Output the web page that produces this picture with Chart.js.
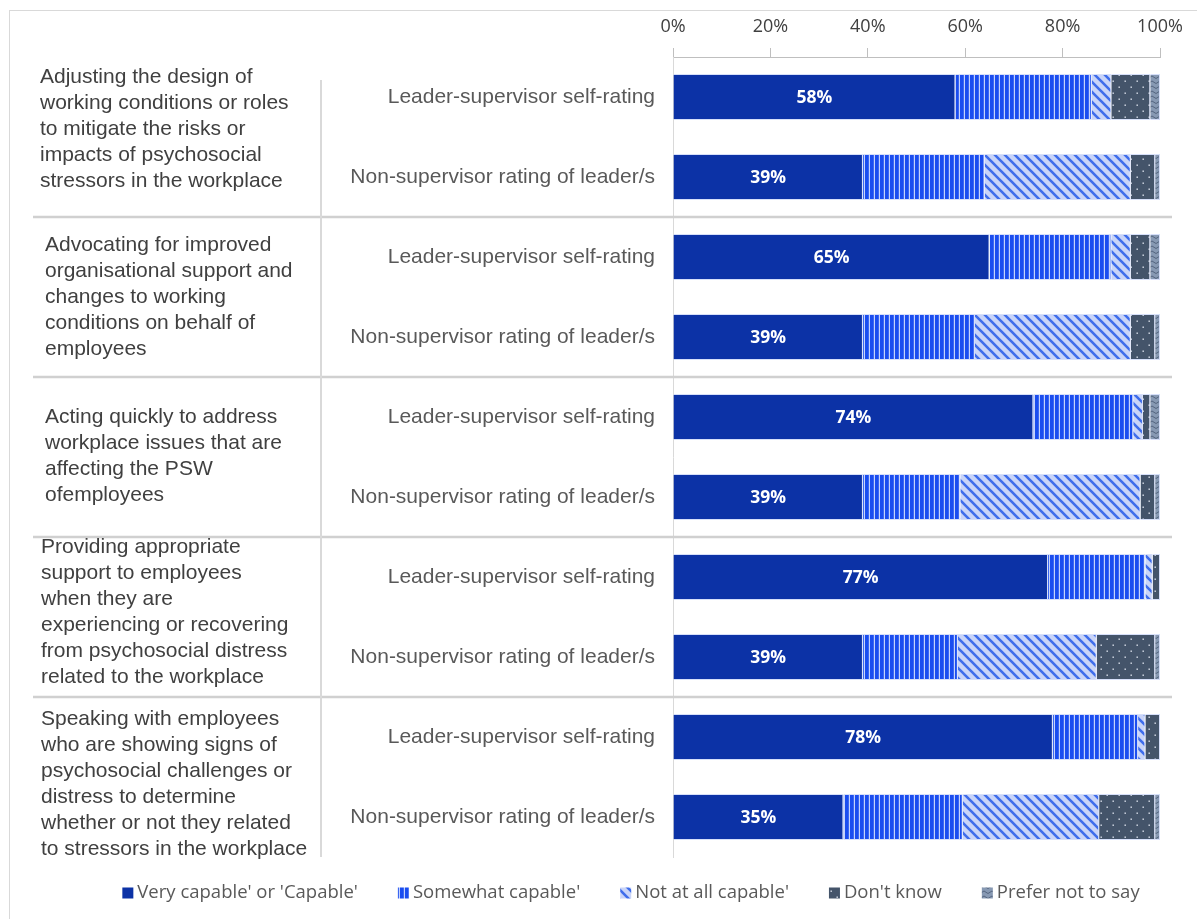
<!DOCTYPE html>
<html>
<head>
<meta charset="utf-8">
<title>Leader capability ratings</title>
<script src="https://cdn.jsdelivr.net/npm/chart.js@4.4.1/dist/chart.umd.min.js"></script>
<style>
  html, body { margin: 0; padding: 0; background: #fff; }
  canvas { display: block; }
</style>
</head>
<body>
<canvas id="capabilityChart" width="1197" height="919"></canvas>
<script>
// rows: two ratings per capability
const rowLabels = [
  "Leader-supervisor self-rating", "Non-supervisor rating of leader/s",
  "Leader-supervisor self-rating", "Non-supervisor rating of leader/s",
  "Leader-supervisor self-rating", "Non-supervisor rating of leader/s",
  "Leader-supervisor self-rating", "Non-supervisor rating of leader/s",
  "Leader-supervisor self-rating", "Non-supervisor rating of leader/s"
];

const groupLabels = [
  ["Adjusting the design of", "working conditions or roles", "to mitigate the risks or", "impacts of psychosocial", "stressors in the workplace"],
  ["Advocating for improved", "organisational support and", "changes to working", "conditions on behalf of", "employees"],
  ["Acting quickly to address", "workplace issues that are", "affecting the PSW", "ofemployees"],
  ["Providing appropriate", "support to employees", "when they are", "experiencing or recovering", "from psychosocial distress", "related to the workplace"],
  ["Speaking with employees", "who are showing signs of", "psychosocial challenges or", "distress to determine", "whether or not they related", "to stressors in the workplace"]
];

const seriesNames = ["Very capable' or 'Capable'", "Somewhat capable'", "Not at all capable'", "Don't know", "Prefer not to say"];

const veryCapable     = [58, 39, 65, 39, 74, 39, 77, 39, 78, 35];
const somewhatCapable = [28, 25, 25, 23, 20.5, 20, 20, 19.5, 17.5, 24.5];
const notAtAllCapable = [4, 30, 4, 32, 2, 37, 1.5, 28.5, 1.5, 28];
const dontKnow        = [8, 5, 4, 5, 1.5, 3, 1.5, 12, 3, 11.5];
const preferNotToSay  = [2, 1, 2, 1, 2, 1, 0, 1, 0, 1];

const xTicks = [0, 20, 40, 60, 80, 100];

const canvas = document.getElementById("capabilityChart");
const ctx = canvas.getContext("2d");

function makePattern(w, h, draw) {
  const c = document.createElement("canvas");
  c.width = w;
  c.height = h;
  draw(c.getContext("2d"), w, h);
  return ctx.createPattern(c, "repeat");
}

const solidBlue = "#0C32A6";

const verticalStripes = makePattern(5, 5, (g, w, h) => {
  g.fillStyle = "#1A4DF0";
  g.fillRect(0, 0, w, h);
  g.fillStyle = "#C5D3FB";
  g.fillRect(3.8, 0, 1.2, h);
});

const diagonalStripes = makePattern(10, 10, (g, w, h) => {
  g.fillStyle = "#C9D4F8";
  g.fillRect(0, 0, w, h);
  g.strokeStyle = "#3F6DEB";
  g.lineWidth = 2.6;
  g.beginPath();
  for (const k of [-10, 0, 10]) {
    g.moveTo(k - 2, -2);
    g.lineTo(k + 12, 12);
  }
  g.stroke();
});

const dottedSlate = makePattern(12, 12, (g, w, h) => {
  g.fillStyle = "#44546A";
  g.fillRect(0, 0, w, h);
  g.fillStyle = "#DDE3EE";
  g.fillRect(2.5, 2.5, 1.4, 1.4);
  g.fillRect(8.5, 8.5, 1.4, 1.4);
});

const zigzagGrey = makePattern(8, 5, (g, w, h) => {
  g.fillStyle = "#8799B3";
  g.fillRect(0, 0, w, h);
  g.strokeStyle = "#55657F";
  g.lineWidth = 1;
  g.beginPath();
  g.moveTo(0, 1);
  g.lineTo(4, 3.5);
  g.lineTo(8, 1);
  g.stroke();
});

const fills = [solidBlue, verticalStripes, diagonalStripes, dottedSlate, zigzagGrey];
const values = [veryCapable, somewhatCapable, notAtAllCapable, dontKnow, preferNotToSay];

// where each group's text block sits relative to its two rows
const groupTextX = [40, 45, 45, 41, 41];
const groupTextShift = [-8, 0, -1, -5, 7];

// frame, group labels, separators, value labels and legend
const decorations = {
  id: "decorations",
  beforeDraw(chart) {
    const c = chart.ctx;
    c.save();
    c.strokeStyle = "#D9D9D9";
    c.lineWidth = 1;
    c.strokeRect(9.5, 10.5, 1400, 1200);
    c.restore();
  },
  afterDatasetsDraw(chart) {
    const c = chart.ctx;
    const area = chart.chartArea;
    const y = chart.scales.y;

    // separators between capability groups
    c.save();
    c.strokeStyle = "#D0D0D0";
    c.lineWidth = 2.5;
    for (let i = 1; i < rowLabels.length - 1; i += 2) {
      const py = Math.round((y.getPixelForValue(i) + y.getPixelForValue(i + 1)) / 2);
      c.beginPath();
      c.moveTo(33, py);
      c.lineTo(area.right + 12, py);
      c.stroke();
    }
    c.strokeStyle = "#D9D9D9";
    c.lineWidth = 2;
    c.beginPath();
    c.moveTo(321, area.top + 23);
    c.lineTo(321, area.bottom);
    c.stroke();

    // group labels
    c.fillStyle = "#404040";
    c.font = "21px 'Liberation Sans', Arial, sans-serif";
    c.textAlign = "left";
    c.textBaseline = "middle";
    const lineH = 26;
    groupLabels.forEach((lines, gi) => {
      const cy = (y.getPixelForValue(gi * 2) + y.getPixelForValue(gi * 2 + 1)) / 2 + groupTextShift[gi];
      const startY = cy - (lines.length - 1) * lineH / 2;
      lines.forEach((t, li) => c.fillText(t, groupTextX[gi], startY + li * lineH));
    });

    // value labels on the first segment
    const meta = chart.getDatasetMeta(0);
    c.fillStyle = "#FFFFFF";
    c.font = "bold 17.5px 'Open Sans', sans-serif";
    c.textAlign = "center";
    meta.data.forEach((bar, i) => {
      c.fillText(veryCapable[i] + "%", (bar.x + bar.base) / 2, bar.y + 1);
    });

    // legend
    c.font = "18.5px 'Open Sans', sans-serif";
    c.textAlign = "left";
    const box = 11, gapText = 4, gapItem = 40;
    const widths = seriesNames.map(n => box + gapText + c.measureText(n).width);
    const total = widths.reduce((a, b) => a + b, 0) + gapItem * (seriesNames.length - 1);
    let lx = 631 - total / 2;
    const ly = 893;
    seriesNames.forEach((n, i) => {
      c.fillStyle = fills[i];
      c.fillRect(lx, ly - box / 2, box, box);
      c.fillStyle = "#595959";
      c.fillText(n, lx + box + gapText, ly);
      lx += widths[i] + gapItem;
    });
    c.restore();
  }
};

new Chart(ctx, {
  type: "bar",
  data: {
    labels: rowLabels,
    datasets: seriesNames.map((name, i) => ({
      label: name,
      data: values[i],
      backgroundColor: fills[i],
      borderColor: "rgba(210, 220, 248, 0.9)",
      borderWidth: 1,
      barPercentage: 0.72,
      categoryPercentage: 0.8
    }))
  },
  options: {
    indexAxis: "y",
    responsive: false,
    animation: false,
    layout: { padding: { left: 0, right: 37, top: 0, bottom: 62 } },
    scales: {
      x: {
        position: "top",
        stacked: true,
        min: 0,
        max: 100,
        afterBuildTicks: s => { s.ticks = xTicks.map(v => ({ value: v })); },
        afterFit: s => { s.height = 57; },
        ticks: {
          callback: v => v + "%",
          color: "#404040",
          padding: 10,
          font: { family: "'Open Sans', sans-serif", size: 18 }
        },
        grid: { drawOnChartArea: false, drawTicks: true, tickLength: 9, color: "#BFBFBF" },
        border: { display: true, color: "#BFBFBF" }
      },
      y: {
        stacked: true,
        afterFit: s => { s.width = 673; },
        ticks: {
          color: "#595959",
          padding: 10,
          font: { family: "'Liberation Sans', Arial, sans-serif", size: 21 }
        },
        grid: { display: false },
        border: { display: true, color: "#D9D9D9" }
      }
    },
    plugins: {
      legend: { display: false },
      tooltip: { enabled: false }
    }
  },
  plugins: [decorations]
});
</script>
</body>
</html>
